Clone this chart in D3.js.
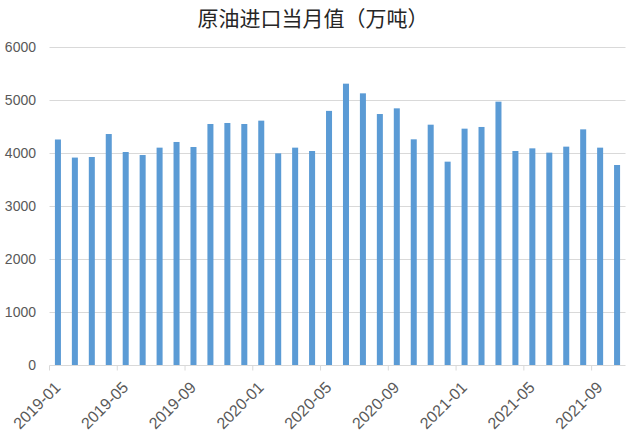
<!DOCTYPE html>
<html>
<head>
<meta charset="utf-8">
<script src="https://cdn.jsdelivr.net/npm/d3@7"></script>
<style>
  body { margin: 0; background: #fff; }
  svg { display: block; }
</style>
</head>
<body>
<div id="chart"></div>
<script>
// monthly crude oil imports, 10k tonnes
var months = ["2019-01","2019-02","2019-03","2019-04","2019-05","2019-06","2019-07","2019-08","2019-09","2019-10","2019-11","2019-12",
              "2020-01","2020-02","2020-03","2020-04","2020-05","2020-06","2020-07","2020-08","2020-09","2020-10","2020-11","2020-12",
              "2021-01","2021-02","2021-03","2021-04","2021-05","2021-06","2021-07","2021-08","2021-09","2021-10"];
var imports = [4251, 3910, 3921, 4354, 4015, 3958, 4097, 4204, 4109, 4543, 4562, 4543,
               4606, 3990, 4097, 4034, 4790, 5303, 5121, 4731, 4838, 4254, 4530, 3833,
               4455, 4487, 4964, 4034, 4084, 4003, 4116, 4442, 4097, 3770];
var yTicks = [0, 1000, 2000, 3000, 4000, 5000, 6000];
var labelMonths = ["2019-01","2019-05","2019-09","2020-01","2020-05","2020-09","2021-01","2021-05","2021-09"];

var width = 640, height = 435;
var plotL = 49.5, plotR = 625.5, plotT = 46.7, plotB = 365;

var svg = d3.select("#chart").append("svg")
  .attr("width", width).attr("height", height);

var x = d3.scaleBand().domain(months).range([plotL, plotR]).paddingInner(0.645).paddingOuter(0.32);
var y = d3.scaleLinear().domain([0, 6000]).range([plotB, plotT]);

// gridlines
svg.append("g").selectAll("line")
  .data(yTicks.filter(function(d){ return d > 0; })).enter()
  .append("line")
  .attr("x1", plotL).attr("x2", plotR)
  .attr("y1", function(d){ return Math.round(y(d)) + 0.5; })
  .attr("y2", function(d){ return Math.round(y(d)) + 0.5; })
  .style("stroke", "#d9d9d9").style("stroke-width", 1);

// y labels
svg.append("g").selectAll("text")
  .data(yTicks).enter()
  .append("text")
  .attr("x", 36).attr("y", function(d){ return y(d); })
  .attr("dy", "0.35em")
  .attr("text-anchor", "end")
  .style("font-family", "'Liberation Sans', Arial, sans-serif")
  .style("font-size", "14px")
  .style("fill", "#595959")
  .text(function(d){ return d; });

// bars
svg.append("g").selectAll("rect")
  .data(imports).enter()
  .append("rect")
  .attr("x", function(d, i){ return x(months[i]); })
  .attr("width", x.bandwidth())
  .attr("y", function(d){ return y(d); })
  .attr("height", function(d){ return y(0) - y(d); })
  .style("fill", "#5b9bd5");

// x axis line + ticks between categories
var axisY = Math.round(plotB) + 0.5;
svg.append("line")
  .attr("x1", plotL).attr("x2", plotR)
  .attr("y1", axisY).attr("y2", axisY)
  .style("stroke", "#d9d9d9");

var edge = d3.scaleLinear().domain([0, months.length]).range([plotL, plotR]);
svg.append("g").selectAll("line")
  .data(labelMonths).enter()
  .append("line")
  .attr("x1", function(d){ return edge(months.indexOf(d)); })
  .attr("x2", function(d){ return edge(months.indexOf(d)); })
  .attr("y1", axisY).attr("y2", axisY + 5)
  .style("stroke", "#d9d9d9");

svg.append("g").selectAll("text")
  .data(labelMonths).enter()
  .append("text")
  .attr("transform", function(d){
    var tx = edge(months.indexOf(d)) + 8;
    return "translate(" + tx + "," + (axisY + 19) + ") rotate(-45)";
  })
  .attr("text-anchor", "end")
  .attr("dy", "0.35em")
  .style("font-family", "'Liberation Sans', Arial, sans-serif")
  .style("font-size", "16px")
  .style("fill", "#595959")
  .text(function(d){ return d; });

// title
svg.append("text")
  .attr("x", 313).attr("y", 26)
  .attr("text-anchor", "middle")
  .style("font-family", "'Noto Sans CJK SC', sans-serif")
  .style("font-size", "21px")
  .style("fill", "#262626")
  .text("原油进口当月值（万吨）");
</script>
</body>
</html>
